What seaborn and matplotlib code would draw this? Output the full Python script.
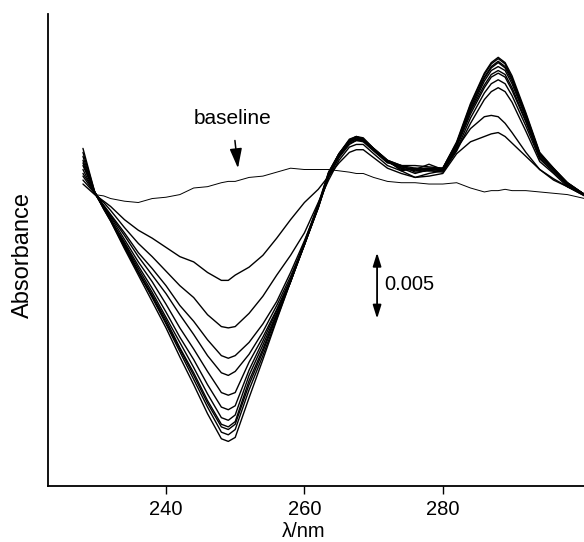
import numpy as np
import pandas as pd
import matplotlib
matplotlib.use('Agg')
import matplotlib.pyplot as plt
import seaborn as sns

# wavelength grid (nm) and difference spectra in mAU
wavelength = [228, 229.7, 231, 232, 234, 236, 238, 240, 242, 244, 246, 248, 249, 250,
              252, 254, 256, 258, 260, 262, 263.5, 265, 266.5, 267.5, 268.5, 270, 272,
              274, 276, 278, 280, 282, 284, 286, 287, 288, 289, 290, 292, 294, 296, 298, 300.5]

baseline = [np.nan, -1.1, -1.2, -1.4, -1.6, -1.7, -1.4, -1.3, -1.1, -0.6, -0.5, -0.2, -0.1, -0.1,
            0.2, 0.3, 0.6, 0.9, 0.8, 0.8, 0.8, 0.7, 0.6, 0.5, 0.5, 0.2, -0.1,
            -0.2, -0.2, -0.3, -0.3, -0.2, -0.6, -0.9, -0.8, -0.8, -0.7, -0.8, -0.8, -0.9, -1.0, -1.1, -1.4]

spectrum_1 = [-0.3, -1.1, -1.6, -2.0, -3.0, -3.8, -4.4, -5.1, -5.8, -6.2, -7.0, -7.6, -7.6, -7.2,
              -6.6, -5.7, -4.4, -3.0, -1.7, -0.7, 0.3, 1.3, 2.1, 2.3, 2.3, 1.7, 0.9,
              0.5, 0.2, 0.3, 0.5, 2.0, 2.9, 3.3, 3.5, 3.6, 3.3, 2.8, 1.8, 0.8, 0.0, -0.5, -1.2]
spectrum_2 = [0.0, -1.0, -1.7, -2.3, -3.6, -4.8, -5.8, -6.9, -8.0, -8.9, -10.2, -11.1, -11.2, -11.1,
              -10.1, -8.8, -7.2, -5.7, -4.0, -1.7, 0.0, 1.5, 2.5, 2.7, 2.7, 2.0, 1.1,
              0.7, 0.2, 0.5, 0.7, 2.4, 3.9, 4.8, 4.9, 4.8, 4.3, 3.6, 2.1, 0.8, 0.1, -0.5, -1.2]
spectrum_3 = [0.3, -1.0, -1.9, -2.6, -4.0, -5.5, -6.7, -8.0, -9.5, -10.7, -12.1, -13.3, -13.5, -13.3,
              -12.3, -10.9, -9.2, -7.0, -4.6, -2.0, 0.2, 1.7, 2.7, 3.0, 2.9, 2.2, 1.3,
              1.1, 0.6, 0.7, 0.6, 2.2, 4.3, 6.1, 6.7, 7.0, 6.7, 5.9, 3.7, 1.4, 0.5, -0.5, -1.1]
spectrum_4 = [0.5, -0.9, -2.0, -2.7, -4.2, -5.8, -7.2, -8.6, -10.2, -11.7, -13.3, -14.6, -14.8, -14.5,
              -13.2, -11.5, -9.5, -7.3, -4.8, -2.1, 0.3, 1.8, 2.8, 3.0, 3.0, 2.3, 1.4,
              0.9, 0.7, 0.8, 0.7, 2.3, 4.7, 6.6, 7.3, 7.6, 7.3, 6.4, 4.1, 1.6, 0.6, -0.4, -1.1]
spectrum_5 = [0.8, -1.0, -2.0, -2.8, -4.5, -6.2, -7.7, -9.4, -11.2, -12.8, -14.5, -16.1, -16.3, -16.1,
              -13.8, -11.9, -9.8, -7.5, -4.9, -2.1, 0.4, 1.8, 2.9, 3.1, 3.0, 2.3, 1.4,
              0.9, 0.5, 0.8, 0.8, 2.5, 5.0, 7.0, 7.8, 8.1, 7.8, 6.8, 4.4, 1.7, 0.7, -0.3, -1.1]
spectrum_6 = [1.1, -0.9, -2.0, -3.0, -4.7, -6.5, -8.2, -10.0, -11.9, -13.6, -15.5, -17.2, -17.4, -17.1,
              -14.4, -12.2, -9.9, -7.6, -4.9, -2.1, 0.5, 1.9, 2.9, 3.1, 3.0, 2.3, 1.4,
              0.8, 0.8, 0.8, 0.8, 2.6, 5.2, 7.2, 8.0, 8.3, 8.0, 7.0, 4.5, 1.8, 0.8, -0.3, -1.1]
spectrum_7 = [1.3, -1.0, -2.1, -3.0, -4.8, -6.7, -8.5, -10.4, -12.3, -14.2, -16.2, -18.0, -18.2, -17.8,
              -14.8, -12.5, -10.1, -7.7, -4.9, -2.0, 0.5, 1.9, 3.0, 3.2, 3.0, 2.3, 1.4,
              1.0, 0.8, 1.2, 0.8, 2.7, 5.3, 7.5, 8.3, 8.6, 8.3, 7.3, 4.7, 1.9, 0.8, -0.3, -1.1]
spectrum_8 = [1.5, -0.9, -2.1, -3.0, -4.9, -6.9, -8.7, -10.6, -12.7, -14.6, -16.7, -18.5, -18.7, -18.3,
              -15.2, -12.8, -10.2, -7.7, -4.9, -2.0, 0.5, 2.0, 3.0, 3.2, 3.1, 2.3, 1.4,
              1.0, 0.8, 0.9, 0.8, 2.7, 5.5, 7.7, 8.5, 8.9, 8.5, 7.5, 4.8, 2.0, 0.8, -0.3, -1.1]
spectrum_9 = [1.8, -1.0, -2.1, -3.0, -5.0, -7.0, -8.8, -10.8, -12.8, -14.8, -16.9, -18.7, -18.9, -18.5,
              -15.5, -13.0, -10.3, -7.7, -4.9, -2.0, 0.5, 2.0, 3.0, 3.3, 3.1, 2.4, 1.5,
              0.7, 0.9, 0.9, 0.9, 2.8, 5.5, 7.8, 8.6, 9.0, 8.6, 7.7, 4.9, 2.0, 0.8, -0.2, -1.1]
spectrum_10 = [2.1, -0.9, -2.2, -3.1, -5.1, -7.0, -8.9, -10.9, -13.0, -15.1, -17.2, -19.1, -19.3, -18.9,
               -15.9, -13.3, -10.5, -7.7, -4.8, -1.9, 0.6, 2.0, 3.0, 3.3, 3.1, 2.4, 1.5,
               1.1, 1.1, 1.0, 0.9, 2.8, 5.7, 8.0, 8.8, 9.2, 8.8, 7.7, 5.0, 2.0, 0.9, -0.2, -1.1]
spectrum_11 = [2.4, -0.9, -2.2, -3.1, -5.2, -7.2, -9.2, -11.2, -13.4, -15.5, -17.7, -19.6, -19.8, -19.5,
               -16.5, -13.6, -10.6, -7.7, -4.7, -1.8, 0.6, 2.0, 3.1, 3.3, 3.2, 2.4, 1.5,
               1.1, 0.9, 0.7, 0.9, 2.9, 5.8, 8.1, 8.9, 9.3, 8.9, 7.9, 5.1, 2.1, 0.9, -0.2, -1.1]

x_ticks = [240, 260, 280]
scale_bar = 0.005

spectra = {
    's1': spectrum_1, 's2': spectrum_2, 's3': spectrum_3, 's4': spectrum_4,
    's5': spectrum_5, 's6': spectrum_6, 's7': spectrum_7, 's8': spectrum_8,
    's9': spectrum_9, 's10': spectrum_10, 's11': spectrum_11,
}

df = pd.DataFrame(spectra)
df['wavelength'] = wavelength
long_df = df.melt(id_vars='wavelength', var_name='spectrum', value_name='mAU')
long_df['absorbance'] = long_df['mAU'] / 1000

base_df = pd.DataFrame({'wavelength': wavelength, 'absorbance': np.array(baseline) / 1000})

sns.set_style('ticks')
plt.rcParams['font.family'] = ['Liberation Sans', 'DejaVu Sans']
plt.rcParams['text.color'] = 'black'
plt.rcParams['axes.labelcolor'] = 'black'
plt.rcParams['axes.edgecolor'] = 'black'
plt.rcParams['xtick.color'] = 'black'

fig = plt.figure(figsize=(5.84, 5.42), dpi=100)
ax = fig.add_axes([0.0822, 0.1033, 0.9178, 0.8708])

sns.lineplot(data=long_df, x='wavelength', y='absorbance', units='spectrum',
             estimator=None, sort=False, color='black', lw=1.0, legend=False, ax=ax)
sns.lineplot(data=base_df, x='wavelength', y='absorbance', sort=False,
             color='black', lw=0.7, ax=ax)

ax.set_xlim(222.95, 300.4)
ax.set_ylim(-0.02318, 0.01258)

# baseline label with arrow
ax.annotate('baseline', xy=(250.4, 0.0009), xytext=(249.6, 0.0047),
            ha='center', va='center', fontsize=15,
            arrowprops=dict(arrowstyle='-|>,head_length=0.8,head_width=0.25',
                            color='black', lw=1.1, shrinkA=7, shrinkB=0))

# 0.005 absorbance scale bar
ax.annotate('', xy=(270.5, -0.008 + scale_bar / 2), xytext=(270.5, -0.008 - scale_bar / 2),
            arrowprops=dict(arrowstyle='<|-|>,head_length=0.8,head_width=0.25',
                            color='black', lw=1.3, shrinkA=0, shrinkB=0))
ax.text(271.6, -0.0079, '0.005', ha='left', va='center', fontsize=14.5)

sns.despine(ax=ax)
ax.spines['left'].set_linewidth(1.3)
ax.spines['bottom'].set_linewidth(1.3)
ax.set_xticks(x_ticks)
ax.set_yticks([])
ax.tick_params(axis='x', direction='out', length=6, width=1.0, pad=4, labelsize=14.5)

ax.set_xlabel('λ/nm', fontsize=14.5)
ax.xaxis.set_label_coords(0.4767, -0.076)
ax.set_ylabel('Absorbance', fontsize=17)
ax.yaxis.set_label_coords(-0.026, 0.49)

fig.savefig('out.png', dpi=100)
